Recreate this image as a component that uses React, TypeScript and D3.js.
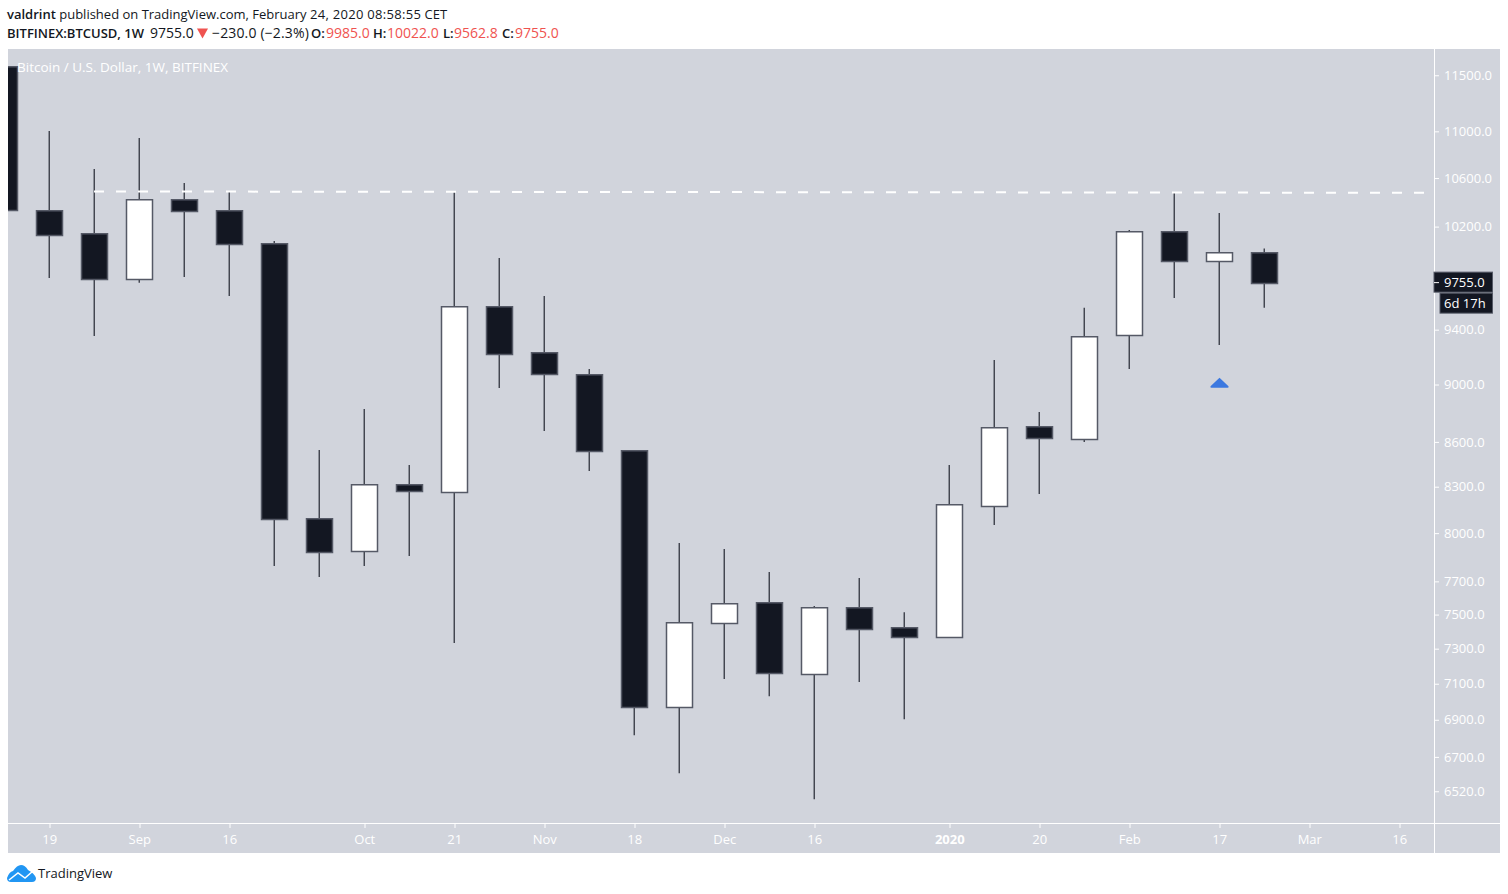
import { useRef, useEffect } from 'react';
import * as d3 from 'd3';

const weeks = [
  '2019-08-12', '2019-08-19', '2019-08-26', '2019-09-02', '2019-09-09', '2019-09-16', '2019-09-23',
  '2019-09-30', '2019-10-07', '2019-10-14', '2019-10-21', '2019-10-28', '2019-11-04', '2019-11-11',
  '2019-11-18', '2019-11-25', '2019-12-02', '2019-12-09', '2019-12-16', '2019-12-23', '2019-12-30',
  '2020-01-06', '2020-01-13', '2020-01-20', '2020-01-27', '2020-02-03', '2020-02-10', '2020-02-17',
  '2020-02-24',
];
const opens = [
  11573, 10325, 10138, 9783, 10415, 10325, 10058, 8088, 7886, 8309, 8263, 9568, 9226, 9066, 8536,
  6968, 7448, 7567, 7153, 7537, 7419, 7366, 8172, 8700, 8618, 9358, 10154, 9924, 9985,
];
const closes = [
  10333, 10130, 9783, 10415, 10325, 10058, 8088, 7879, 8309, 8270, 9568, 9218, 9073, 8536, 6968,
  7448, 7561, 7159, 7537, 7413, 7366, 8178, 8693, 8624, 9343, 10154, 9924, 9987, 9755,
];
const highs = [
  11600, 11001, 10674, 10940, 10556, 10481, 10082, 8543, 8825, 8442, 10481, 9947, 9652, 9109, 8536,
  7936, 7898, 7756, 7549, 7719, 7513, 8442, 9175, 8804, 9563, 10171, 10481, 10308, 10022,
];
const lows = [
  10300, 9791, 9351, 9755, 9799, 9652, 7793, 7725, 7793, 7855, 7331, 8973, 8672, 8402, 6815, 6613,
  7125, 7029, 6478, 7108, 6902, 7360, 8050, 8250, 8597, 9109, 9637, 9284, 9562.8,
];

const priceTicks = [11500, 11000, 10600, 10200, 9400, 9000, 8600, 8300, 8000, 7700, 7500, 7300, 7100, 6900, 6700, 6520];
const timeTicks = [
  '2019-08-19', '2019-09-02', '2019-09-16', '2019-10-07', '2019-10-21', '2019-11-04', '2019-11-18',
  '2019-12-02', '2019-12-16', '2020-01-06', '2020-01-20', '2020-02-03', '2020-02-17', '2020-03-02', '2020-03-16',
];
const timeLabels = ['19', 'Sep', '16', 'Oct', '21', 'Nov', '18', 'Dec', '16', '2020', '20', 'Feb', '17', 'Mar', '16'];

const levelDates = ['2019-08-26', '2020-03-20'];
const levelPrices = [10486, 10475];
const lastPrice = 9755;
const arrowDate = '2020-02-17';
const arrowPrice = 8975;

const width = 1508;
const height = 894;
const left = 8;
const right = 1500;
const top = 49;
const bottom = 853;
const axisX = 1434;
const axisY = 823;
const font = '"Open Sans", "Noto Sans", sans-serif';
const dark = '#131722';
const border = '#555966';
const red = '#ef5350';
const labelColor = '#ffffff';

const parse = (s: string) => new Date(s + 'T00:00:00Z');

export default function App() {
  const gx = useRef<SVGGElement>(null);
  const gy = useRef<SVGGElement>(null);

  const x = d3.scaleUtc([parse('2019-08-19'), parse('2020-03-16')], [49, 1399]);
  const y = d3.scaleLog([11500, 6520], [75, 791]);
  const bodyWidth = 26;

  useEffect(() => {
    if (gx.current) {
      const axis = d3
        .axisBottom(x)
        .tickValues(timeTicks.map(parse))
        .tickSize(5)
        .tickFormat((_, i) => timeLabels[i]);
      const g = d3.select(gx.current).call(axis as any);
      g.select('.domain').remove();
      g.selectAll('line').attr('stroke', '#ffffff');
      g.selectAll('text')
        .attr('x', -0.25)
        .attr('y', 12)
        .attr('fill', labelColor)
        .attr('font-size', 13)
        .attr('font-family', font)
        .attr('font-weight', (_, i) => (timeLabels[i] === '2020' ? 700 : 500));
    }
  }, [x]);

  useEffect(() => {
    if (gy.current) {
      const axis = d3.axisRight(y).tickValues(priceTicks).tickSize(5).tickFormat((d) => (d as number).toFixed(1));
      const g = d3.select(gy.current).call(axis as any);
      g.select('.domain').remove();
      g.selectAll('line').attr('stroke', '#ffffff');
      g.selectAll('text')
        .attr('x', 10)
        .attr('fill', labelColor)
        .attr('font-size', 13)
        .attr('font-weight', 500)
        .attr('font-family', font);
    }
  }, [y]);

  const cx = (i: number) => Math.round(x(parse(weeks[i]))) + 0.5;
  const arrowX = Math.round(x(parse(arrowDate))) + 0.5;
  const arrowY = y(arrowPrice);

  return (
    <svg
      width={width}
      height={height}
      style={{ position: 'absolute', left: 0, top: 0, background: '#ffffff' }}
      fontFamily={font}
    >
      <defs>
        <clipPath id="pane">
          <rect x={left} y={top} width={axisX - left} height={axisY - top} />
        </clipPath>
      </defs>

      <text x={7} y={19} fontSize={13} fill={dark}>
        <tspan fontWeight={600}>valdrint</tspan> published on TradingView.com, February{' '}
        <tspan letterSpacing={0.3}>24, 2020 08:58:55</tspan> CET
      </text>
      <g fontSize={14} fill={dark}>
        <text x={7} y={38} fontSize={13} fontWeight={600}>BITFINEX:BTCUSD, 1W</text>
        <text x={150} y={38}>9755.0</text>
        <path d="M197 28.5L208 28.5L202.5 38.5Z" fill={red} />
        <text x={212} y={38} letterSpacing={0.15}>−230.0 (−2.3%)</text>
        <text x={311} y={38} fontWeight={600} fontSize={13}>O:</text>
        <text x={326} y={38} fill={red}>9985.0</text>
        <text x={373} y={38} fontWeight={600} fontSize={13}>H:</text>
        <text x={387} y={38} fill={red}>10022.0</text>
        <text x={443} y={38} fontWeight={600} fontSize={13}>L:</text>
        <text x={454} y={38} fill={red}>9562.8</text>
        <text x={502} y={38} fontWeight={600} fontSize={13}>C:</text>
        <text x={515} y={38} fill={red}>9755.0</text>
      </g>

      <rect x={left} y={top} width={right - left} height={bottom - top} fill="#d1d4dc" />

      <g clipPath="url(#pane)">
        {weeks.map((w, i) => {
          const up = closes[i] > opens[i];
          const y0 = Math.round(y(Math.max(opens[i], closes[i])));
          const y1 = Math.round(y(Math.min(opens[i], closes[i])));
          return (
            <g key={w}>
              <line x1={cx(i) - 0.3} x2={cx(i) - 0.3} y1={y(highs[i])} y2={y(lows[i])} stroke={dark} strokeWidth={1.1} />
              <rect
                x={cx(i) - bodyWidth / 2}
                y={y0 - 0.25}
                width={bodyWidth}
                height={y1 - y0 + 0.75}
                fill={up ? '#ffffff' : dark}
                stroke={border}
                strokeWidth={1.5}
              />
            </g>
          );
        })}
        <line
          x1={x(parse(levelDates[0]))}
          x2={x(parse(levelDates[1]))}
          y1={y(levelPrices[0])}
          y2={y(levelPrices[1])}
          stroke="#ffffff"
          strokeWidth={2}
          strokeDasharray="10 12"
        />
        <path
          d={`M${arrowX} ${arrowY - 10}L${arrowX + 9} ${arrowY - 1.5}Q${arrowX + 9.5} ${arrowY} ${arrowX + 8} ${arrowY}L${arrowX - 8} ${arrowY}Q${arrowX - 9.5} ${arrowY} ${arrowX - 9} ${arrowY - 1.5}Z`}
          fill="#3b78e0"
        />
      </g>

      <text x={17} y={72} fontSize={13.5} fill="#ffffff" fontWeight={500}>
        Bitcoin / U.S. Dollar, 1W, BITFINEX
      </text>

      <line x1={axisX + 0.5} x2={axisX + 0.5} y1={top} y2={bottom} stroke="#ffffff" />
      <line x1={left} x2={right} y1={axisY + 0.5} y2={axisY + 0.5} stroke="#ffffff" />
      <g ref={gx} transform={`translate(0.5, ${axisY})`} />
      <g ref={gy} transform={`translate(${axisX}, 0.25)`} />

      <rect x={axisX} y={y(lastPrice) - 10.5} width={58.5} height={20} fill={dark} stroke={border} />
      <line x1={axisX} x2={axisX + 5} y1={y(lastPrice)} y2={y(lastPrice)} stroke="#ffffff" />
      <text x={axisX + 10} y={y(lastPrice) + 4.5} fontSize={13} fontWeight={500} fill="#ffffff">
        9755.0
      </text>
      <rect x={axisX + 6} y={y(lastPrice) + 10.5} width={52.5} height={20} fill={dark} stroke={border} />
      <text x={axisX + 10} y={y(lastPrice) + 25} fontSize={13} fontWeight={500} fill="#ffffff">
        6d 17h
      </text>

      <path
        d="M7 878Q9 872 13 871Q17 865 21 865Q25 865 28 870Q34 873 36 878Q36 882 32 882L11 882Q7 882 7 878Z"
        fill="#2196f3"
      />
      <path d="M9 880L18 873L25 878L33 871" fill="none" stroke="#ffffff" strokeWidth={1.5} />
      <text x={38} y={878} fontSize={13} fill={dark}>
        TradingView
      </text>
    </svg>
  );
}
